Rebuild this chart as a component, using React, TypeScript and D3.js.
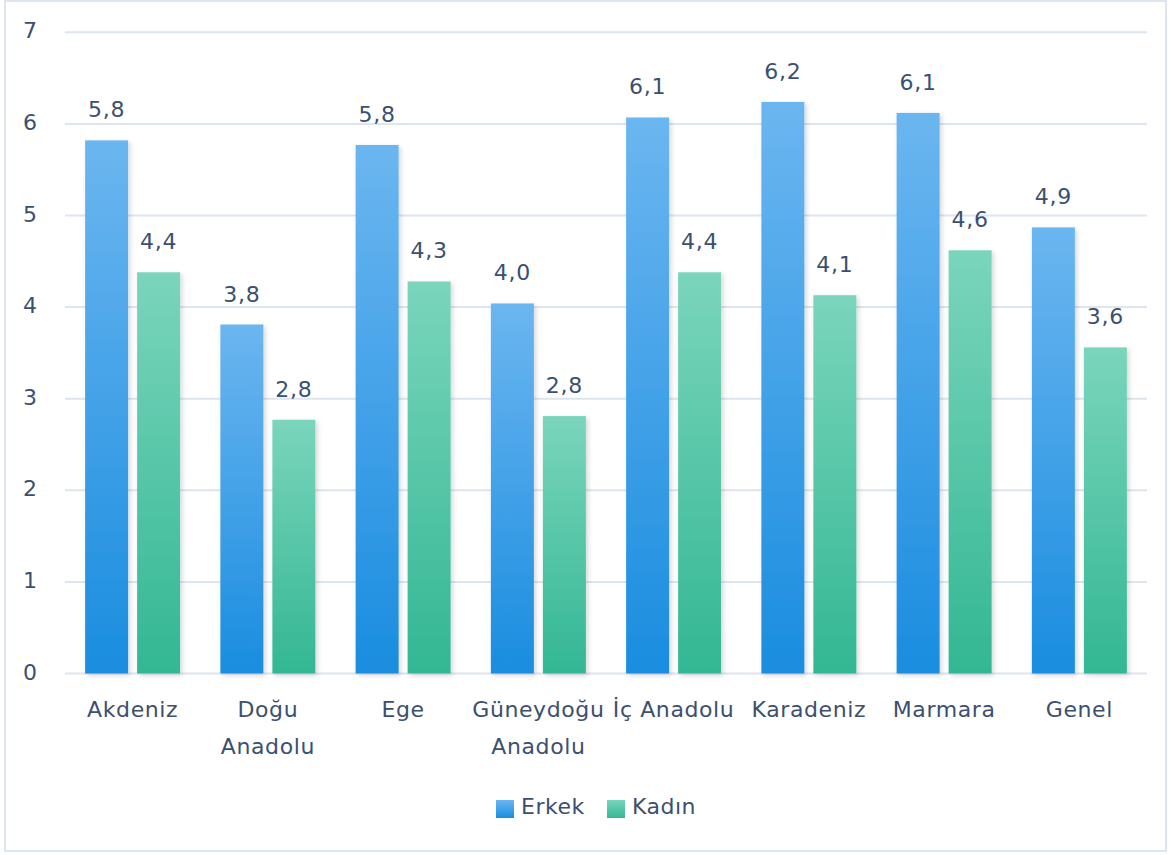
import React from "react";
import * as d3 from "d3";

const categories: string[][] = [
  ["Akdeniz"],
  ["Doğu", "Anadolu"],
  ["Ege"],
  ["Güneydoğu", "Anadolu"],
  ["İç Anadolu"],
  ["Karadeniz"],
  ["Marmara"],
  ["Genel"],
];
const erkek = [5.82, 3.81, 5.77, 4.04, 6.07, 6.24, 6.12, 4.87];
const kadin = [4.38, 2.77, 4.28, 2.81, 4.38, 4.13, 4.62, 3.56];
const erkekLabels = ["5,8", "3,8", "5,8", "4,0", "6,1", "6,2", "6,1", "4,9"];
const kadinLabels = ["4,4", "2,8", "4,3", "2,8", "4,4", "4,1", "4,6", "3,6"];
const yTicks = [0, 1, 2, 3, 4, 5, 6, 7];
const seriesNames = ["Erkek", "Kadın"];

const W = 1171;
const H = 855;
const FONT = "'DejaVu Sans', Verdana, sans-serif";
const TEXT = "#3b5070";
const GRID = "#dde5ef";

export default function App() {
  const x = d3
    .scaleBand<number>()
    .domain(d3.range(categories.length))
    .range([65, 1147])
    .paddingInner(0)
    .paddingOuter(0);
  const y = d3.scaleLinear().domain([0, 7]).range([673.5, 32.3]);
  const barW = 43;
  const gap = 9;

  const series = [
    { vals: erkek, labels: erkekLabels, grad: "gErkek", off: -(gap / 2 + barW) },
    { vals: kadin, labels: kadinLabels, grad: "gKadin", off: gap / 2 },
  ];

  return (
    <svg
      width={W}
      height={H}
      style={{ position: "absolute", left: 0, top: 0, background: "#fff" }}
    >
      <defs>
        <linearGradient id="gErkek" x1="0" y1="0" x2="0" y2="1">
          <stop offset="0%" stopColor="#6bb6f0" />
          <stop offset="100%" stopColor="#1a8ddf" />
        </linearGradient>
        <linearGradient id="gKadin" x1="0" y1="0" x2="0" y2="1">
          <stop offset="0%" stopColor="#7ad5bc" />
          <stop offset="100%" stopColor="#33b793" />
        </linearGradient>
        <filter id="shadow" x="-30%" y="-10%" width="160%" height="120%">
          <feDropShadow dx="2" dy="2" stdDeviation="2.5" floodColor="#000" floodOpacity="0.16" />
        </filter>
      </defs>
      <rect x={5} y={1} width={1161} height={850} fill="none" stroke={GRID} strokeWidth={2} />
      {yTicks.map((t) => (
        <g key={t}>
          <line x1={65} x2={1147} y1={y(t)} y2={y(t)} stroke={GRID} strokeWidth={2} />
          <text
            x={30}
            y={y(t) + 6}
            textAnchor="middle"
            fontFamily={FONT}
            fontSize={22}
            fill={TEXT}
          >
            {t}
          </text>
        </g>
      ))}
      {series.map((s, si) =>
        s.vals.map((v, i) => {
          const cx = (x(i) as number) + x.bandwidth() / 2;
          const bx = cx + s.off;
          return (
            <g key={`${si}-${i}`}>
              <rect
                x={bx}
                y={y(v)}
                width={barW}
                height={y(0) - y(v)}
                fill={`url(#${s.grad})`}
                filter="url(#shadow)"
              />
              <text
                x={bx + barW / 2}
                y={y(v) - 23}
                textAnchor="middle"
                fontFamily={FONT}
                fontSize={22}
                letterSpacing={0.8}
                fill={TEXT}
              >
                {s.labels[i]}
              </text>
            </g>
          );
        })
      )}
      {categories.map((lines, i) => {
        const cx = (x(i) as number) + x.bandwidth() / 2;
        return (
          <text
            key={i}
            textAnchor="middle"
            fontFamily={FONT}
            fontSize={22}
            letterSpacing={0.6}
            fill={TEXT}
          >
            {lines.map((l, j) => (
              <tspan key={j} x={cx} y={717 + j * 37}>
                {l}
              </tspan>
            ))}
          </text>
        );
      })}
      {seriesNames.map((n, i) => {
        const lx = [496, 607][i];
        return (
          <g key={n}>
            <rect x={lx} y={800} width={18} height={18} fill={`url(#${i === 0 ? "gErkek" : "gKadin"})`} />
            <text x={lx + 25} y={814} fontFamily={FONT} fontSize={22} letterSpacing={0.5} fill={TEXT}>
              {n}
            </text>
          </g>
        );
      })}
    </svg>
  );
}
